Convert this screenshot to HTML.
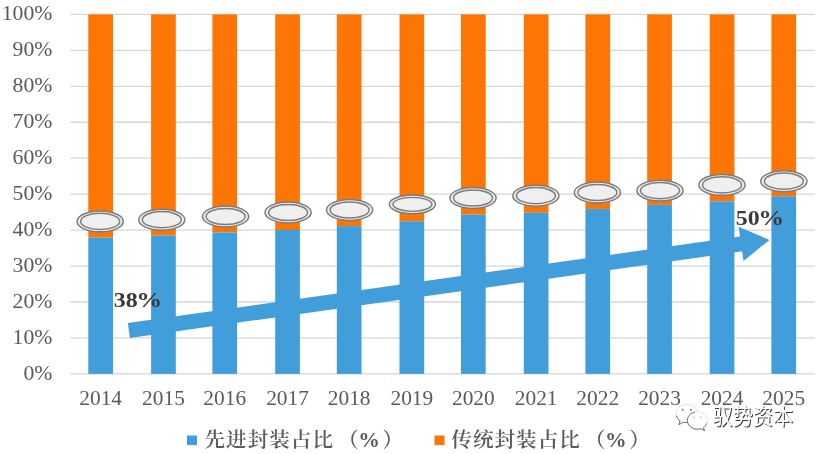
<!DOCTYPE html><html><head><meta charset="utf-8"><title>chart</title><style>html,body{margin:0;padding:0;background:#fff}svg{display:block}text{font-family:"Liberation Serif","Noto Serif CJK SC",serif}.wm{font-family:"Liberation Sans","Noto Sans CJK SC",sans-serif}</style></head><body>
<svg width="820" height="454" viewBox="0 0 820 454">
<rect width="820" height="454" fill="#fff"/>
<line x1="70.4" x2="814.8" y1="373.90" y2="373.90" stroke="#d6d6d6" stroke-width="1.3"/>
<line x1="70.4" x2="814.8" y1="337.95" y2="337.95" stroke="#d6d6d6" stroke-width="1.3"/>
<line x1="70.4" x2="814.8" y1="302.00" y2="302.00" stroke="#d6d6d6" stroke-width="1.3"/>
<line x1="70.4" x2="814.8" y1="266.05" y2="266.05" stroke="#d6d6d6" stroke-width="1.3"/>
<line x1="70.4" x2="814.8" y1="230.10" y2="230.10" stroke="#d6d6d6" stroke-width="1.3"/>
<line x1="70.4" x2="814.8" y1="194.15" y2="194.15" stroke="#d6d6d6" stroke-width="1.3"/>
<line x1="70.4" x2="814.8" y1="158.20" y2="158.20" stroke="#d6d6d6" stroke-width="1.3"/>
<line x1="70.4" x2="814.8" y1="122.25" y2="122.25" stroke="#d6d6d6" stroke-width="1.3"/>
<line x1="70.4" x2="814.8" y1="86.30" y2="86.30" stroke="#d6d6d6" stroke-width="1.3"/>
<line x1="70.4" x2="814.8" y1="50.35" y2="50.35" stroke="#d6d6d6" stroke-width="1.3"/>
<line x1="70.4" x2="814.8" y1="14.40" y2="14.40" stroke="#d6d6d6" stroke-width="1.3"/>
<rect x="112" y="290" width="40" height="22" fill="#fff"/>
<rect x="88.30" y="14.40" width="24.7" height="223.20" fill="#fd7605"/>
<rect x="88.30" y="237.60" width="24.7" height="136.30" fill="#419edb"/>
<rect x="151.10" y="14.40" width="24.7" height="221.00" fill="#fd7605"/>
<rect x="151.10" y="235.40" width="24.7" height="138.50" fill="#419edb"/>
<rect x="212.40" y="14.40" width="24.7" height="218.00" fill="#fd7605"/>
<rect x="212.40" y="232.40" width="24.7" height="141.50" fill="#419edb"/>
<rect x="275.20" y="14.40" width="24.7" height="215.60" fill="#fd7605"/>
<rect x="275.20" y="230.00" width="24.7" height="143.90" fill="#419edb"/>
<rect x="336.80" y="14.40" width="24.7" height="211.70" fill="#fd7605"/>
<rect x="336.80" y="226.10" width="24.7" height="147.80" fill="#419edb"/>
<rect x="399.50" y="14.40" width="24.7" height="206.80" fill="#fd7605"/>
<rect x="399.50" y="221.20" width="24.7" height="152.70" fill="#419edb"/>
<rect x="461.00" y="14.40" width="24.7" height="200.20" fill="#fd7605"/>
<rect x="461.00" y="214.60" width="24.7" height="159.30" fill="#419edb"/>
<rect x="523.80" y="14.40" width="24.7" height="198.35" fill="#fd7605"/>
<rect x="523.80" y="212.75" width="24.7" height="161.15" fill="#419edb"/>
<rect x="585.40" y="14.40" width="24.7" height="194.50" fill="#fd7605"/>
<rect x="585.40" y="208.90" width="24.7" height="165.00" fill="#419edb"/>
<rect x="647.20" y="14.40" width="24.7" height="190.50" fill="#fd7605"/>
<rect x="647.20" y="204.90" width="24.7" height="169.00" fill="#419edb"/>
<rect x="709.70" y="14.40" width="24.7" height="186.90" fill="#fd7605"/>
<rect x="709.70" y="201.30" width="24.7" height="172.60" fill="#419edb"/>
<rect x="771.40" y="14.40" width="24.7" height="181.80" fill="#fd7605"/>
<rect x="771.40" y="196.20" width="24.7" height="177.70" fill="#419edb"/>
<polygon transform="translate(128.9,330.5) rotate(-8.050)" points="0.00,-7.50 618.28,-7.50 618.28,-17.25 646.98,0.00 618.28,17.25 618.28,7.50 0.00,7.50" fill="#419edb"/>
<ellipse cx="100.2" cy="221.4" rx="23.1" ry="10.45" fill="#ececec" stroke="#7c7c7c" stroke-width="1.45"/>
<ellipse cx="100.2" cy="221.4" rx="19.5" ry="8.10" fill="#efefef" stroke="#7c7c7c" stroke-width="1.45"/>
<ellipse cx="161.8" cy="219.7" rx="23.1" ry="10.45" fill="#ececec" stroke="#7c7c7c" stroke-width="1.45"/>
<ellipse cx="161.8" cy="219.7" rx="19.5" ry="8.10" fill="#efefef" stroke="#7c7c7c" stroke-width="1.45"/>
<ellipse cx="225.6" cy="216.5" rx="23.1" ry="10.45" fill="#ececec" stroke="#7c7c7c" stroke-width="1.45"/>
<ellipse cx="225.6" cy="216.5" rx="19.5" ry="8.10" fill="#efefef" stroke="#7c7c7c" stroke-width="1.45"/>
<ellipse cx="288.1" cy="212.5" rx="23.1" ry="10.45" fill="#ececec" stroke="#7c7c7c" stroke-width="1.45"/>
<ellipse cx="288.1" cy="212.5" rx="19.5" ry="8.10" fill="#efefef" stroke="#7c7c7c" stroke-width="1.45"/>
<ellipse cx="349.6" cy="210.0" rx="23.1" ry="10.45" fill="#ececec" stroke="#7c7c7c" stroke-width="1.45"/>
<ellipse cx="349.6" cy="210.0" rx="19.5" ry="8.10" fill="#efefef" stroke="#7c7c7c" stroke-width="1.45"/>
<ellipse cx="412.4" cy="204.35" rx="23.1" ry="9.35" fill="#ececec" stroke="#7c7c7c" stroke-width="1.45"/>
<ellipse cx="412.4" cy="204.35" rx="19.5" ry="7.00" fill="#efefef" stroke="#7c7c7c" stroke-width="1.45"/>
<ellipse cx="473" cy="198.0" rx="23.1" ry="10.45" fill="#ececec" stroke="#7c7c7c" stroke-width="1.45"/>
<ellipse cx="473" cy="198.0" rx="19.5" ry="8.10" fill="#efefef" stroke="#7c7c7c" stroke-width="1.45"/>
<ellipse cx="535.9" cy="195.7" rx="23.1" ry="10.45" fill="#ececec" stroke="#7c7c7c" stroke-width="1.45"/>
<ellipse cx="535.9" cy="195.7" rx="19.5" ry="8.10" fill="#efefef" stroke="#7c7c7c" stroke-width="1.45"/>
<ellipse cx="597.4" cy="192.5" rx="23.1" ry="10.45" fill="#ececec" stroke="#7c7c7c" stroke-width="1.45"/>
<ellipse cx="597.4" cy="192.5" rx="19.5" ry="8.10" fill="#efefef" stroke="#7c7c7c" stroke-width="1.45"/>
<ellipse cx="660.0" cy="190.6" rx="23.1" ry="10.45" fill="#ececec" stroke="#7c7c7c" stroke-width="1.45"/>
<ellipse cx="660.0" cy="190.6" rx="19.5" ry="8.10" fill="#efefef" stroke="#7c7c7c" stroke-width="1.45"/>
<ellipse cx="722.0" cy="184.9" rx="23.1" ry="10.45" fill="#ececec" stroke="#7c7c7c" stroke-width="1.45"/>
<ellipse cx="722.0" cy="184.9" rx="19.5" ry="8.10" fill="#efefef" stroke="#7c7c7c" stroke-width="1.45"/>
<ellipse cx="783.9" cy="181.2" rx="23.1" ry="10.45" fill="#ececec" stroke="#7c7c7c" stroke-width="1.45"/>
<ellipse cx="783.9" cy="181.2" rx="19.5" ry="8.10" fill="#efefef" stroke="#7c7c7c" stroke-width="1.45"/>
<text x="52.3" y="379.70" font-size="21.7" fill="#5a5a5a" text-anchor="end">0%</text>
<text x="52.3" y="343.75" font-size="21.7" fill="#5a5a5a" text-anchor="end">10%</text>
<text x="52.3" y="307.80" font-size="21.7" fill="#5a5a5a" text-anchor="end">20%</text>
<text x="52.3" y="271.85" font-size="21.7" fill="#5a5a5a" text-anchor="end">30%</text>
<text x="52.3" y="235.90" font-size="21.7" fill="#5a5a5a" text-anchor="end">40%</text>
<text x="52.3" y="199.95" font-size="21.7" fill="#5a5a5a" text-anchor="end">50%</text>
<text x="52.3" y="164.00" font-size="21.7" fill="#5a5a5a" text-anchor="end">60%</text>
<text x="52.3" y="128.05" font-size="21.7" fill="#5a5a5a" text-anchor="end">70%</text>
<text x="52.3" y="92.10" font-size="21.7" fill="#5a5a5a" text-anchor="end">80%</text>
<text x="52.3" y="56.15" font-size="21.7" fill="#5a5a5a" text-anchor="end">90%</text>
<text x="52.3" y="20.20" font-size="21.7" fill="#5a5a5a" text-anchor="end">100%</text>
<text x="100.65" y="404.6" font-size="21.4" fill="#5a5a5a" text-anchor="middle">2014</text>
<text x="163.45" y="404.6" font-size="21.4" fill="#5a5a5a" text-anchor="middle">2015</text>
<text x="224.75" y="404.6" font-size="21.4" fill="#5a5a5a" text-anchor="middle">2016</text>
<text x="287.55" y="404.6" font-size="21.4" fill="#5a5a5a" text-anchor="middle">2017</text>
<text x="349.15" y="404.6" font-size="21.4" fill="#5a5a5a" text-anchor="middle">2018</text>
<text x="411.85" y="404.6" font-size="21.4" fill="#5a5a5a" text-anchor="middle">2019</text>
<text x="473.35" y="404.6" font-size="21.4" fill="#5a5a5a" text-anchor="middle">2020</text>
<text x="536.15" y="404.6" font-size="21.4" fill="#5a5a5a" text-anchor="middle">2021</text>
<text x="597.75" y="404.6" font-size="21.4" fill="#5a5a5a" text-anchor="middle">2022</text>
<text x="659.55" y="404.6" font-size="21.4" fill="#5a5a5a" text-anchor="middle">2023</text>
<text x="722.05" y="404.6" font-size="21.4" fill="#5a5a5a" text-anchor="middle">2024</text>
<text x="783.75" y="404.6" font-size="21.4" fill="#5a5a5a" text-anchor="middle">2025</text>
<text transform="translate(113.8,307.1) scale(1.14,1)" font-size="21" font-weight="bold" fill="#3a3a3a">38</text>
<text transform="translate(136.3,307.1) scale(1.24,1)" font-size="21" font-weight="bold" fill="#3a3a3a">%</text>
<text transform="translate(735.8,224.75) scale(1.14,1)" font-size="21" font-weight="bold" fill="#3a3a3a">50</text>
<text transform="translate(758.3,224.75) scale(1.24,1)" font-size="21" font-weight="bold" fill="#3a3a3a">%</text>
<rect x="187" y="435.5" width="10" height="9.6" fill="#419edb"/>
<text y="447.1" font-size="20.6" font-weight="600" fill="#5a5a5a"><tspan x="204.5" letter-spacing="1">先进封装占比</tspan><tspan x="338.0">（</tspan><tspan x="358.3" font-size="21.6" font-weight="bold">%</tspan><tspan x="382.5">）</tspan></text>
<rect x="434.5" y="435.5" width="10" height="9.6" fill="#fd7605"/>
<text y="447.1" font-size="20.6" font-weight="600" fill="#5a5a5a"><tspan x="451.3" letter-spacing="1">传统封装占比</tspan><tspan x="584.8">（</tspan><tspan x="605.1" font-size="21.6" font-weight="bold">%</tspan><tspan x="629.3">）</tspan></text>
<g fill="#fff" stroke="#dcdcdc" stroke-width="0.8">
<path d="M687 404.3c-6 0-10.900 4.200-10.900 9.300 0 2.900 1.600 5.500 4.100 7.200l-1.300 3.900 4.300-2.400c1.200.4 2.500.6 3.800.6 6 0 10.900-4.200 10.900-9.300s-4.900-9.300-10.900-9.300z"/>
<path d="M697.300 411.800c-5.500 0-10 3.900-10 8.700s4.500 8.700 10 8.700c1.200 0 2.300-.2 3.400-.5l3.700 2-1-3.300c2.400-1.600 3.900-4.100 3.900-6.900 0-4.800-4.500-8.700-10-8.700z"/>
</g>
<g fill="none" stroke="#666" stroke-width="0.9">
<path d="M676.200 415.500c.5 2.100 1.900 3.900 3.900 5.300l-1.300 3.900 4.300-2.400 3.800.3"/>
<path d="M695 412.100c-4.300.9-7.600 4.300-7.600 8.400 0 4.800 4.500 8.700 10 8.700 1.200 0 2.300-.2 3.400-.5l3.700 2-1-3.300c1.500-1 2.700-2.400 3.300-4"/>
</g>
<g fill="#666"><circle cx="682.700" cy="409.700" r=".9"/><circle cx="691" cy="410" r=".9"/></g><g fill="#bbb"><circle cx="694" cy="417.400" r=".8"/><circle cx="700.700" cy="417.300" r=".8"/></g>
<text class="wm" transform="translate(713.6,425.4) scale(1,1.09)" font-size="20.1" fill="#3c3c3c">驭势资本</text>
<text class="wm" transform="translate(712.6,424.4) scale(1,1.09)" font-size="20.1" fill="#fff">驭势资本</text>
</svg></body></html>
